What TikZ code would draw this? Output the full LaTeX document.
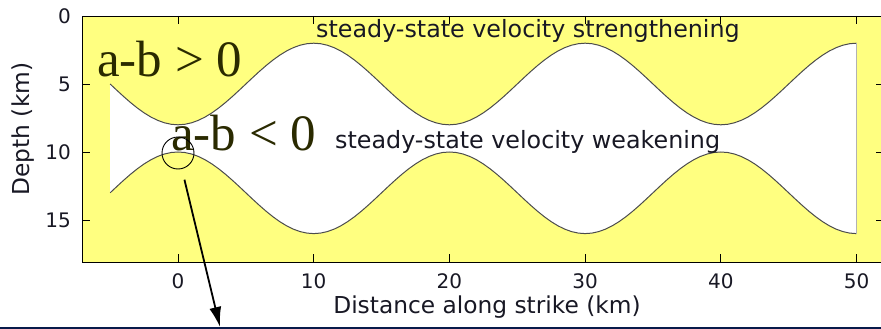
\documentclass[tikz,border=0pt]{standalone}
\usepackage{fontspec}
\setmainfont{Liberation Serif}
\setsansfont{DejaVu Sans}
\usepackage{tikz}
\usetikzlibrary{arrows.meta}

\definecolor{faultyellow}{RGB}{255,255,128}
\definecolor{inktext}{RGB}{24,24,36}
\definecolor{olivetext}{RGB}{42,42,0}
\definecolor{navyband}{RGB}{8,26,74}

\begin{document}
\begin{tikzpicture}[x=1pt, y=-1pt,
  every node/.style={inner sep=0pt, text=inktext, font=\sffamily},
  ticklab/.style={font=\sffamily\fontsize{20}{20}\selectfont},
  axlab/.style={font=\sffamily\fontsize{23.3}{23.3}\selectfont},
  regionlab/.style={font=\sffamily\fontsize{23.8}{23.8}\selectfont},
  ablab/.style={font=\fontsize{51}{51}\selectfont, text=olivetext}]
\useasboundingbox (0,0) rectangle (881,329);
\clip (0,0) rectangle (881,329);

% data coordinates: km along strike, km depth
\begin{scope}[shift={(178,16)}, x=13.57pt, y=-13.6pt]
\fill[faultyellow] (-7.07,0) rectangle (52,18.09);
\fill[white] (-5,5) -- plot[domain=-5:50, samples=111] (\x,{5+3*cos(18*\x)})
  -- (50,16) -- plot[domain=50:-5, samples=111] (\x,{13-3*cos(18*\x)}) -- cycle;
\draw[gray!60!black, line width=1pt] plot[domain=-5:50, samples=111] (\x,{5+3*cos(18*\x)});
\draw[gray!60!black, line width=1pt] plot[domain=-5:50, samples=111] (\x,{13-3*cos(18*\x)});
\draw[gray!60, line width=0.6pt] (50,2) -- (50,16);
\draw[line width=0.8pt] (-7.07,0) rectangle (52,18.09);
\foreach \x in {0,10,...,50} {
  \draw[line width=0.8pt] (\x,18.09) -- ++(0,8pt);
  \draw[line width=0.8pt] (\x,0) -- ++(0,-8pt);
  \node[ticklab, anchor=base] (xt\x) at ([yshift=-26pt]\x,18.09) {\x};
}
\foreach \y in {5,10,15} {
  \draw[line width=0.8pt] (-7.07,\y) -- ++(8pt,0);
  \draw[line width=0.8pt] (52,\y) -- ++(-8pt,0);
}
\foreach \y in {0,5,10,15}
  \node[ticklab, anchor=east] (yt\y) at ([xshift=-11pt]-7.07,\y) {\y};
\end{scope}

\node[axlab, rotate=90] (ylab) at (23,129) {Depth (km)};
\node[axlab, anchor=base] (xlab) at (487,313) {Distance along strike (km)};
\node[regionlab, anchor=base west] (strong) at (316,38) {steady-state velocity strengthening};
\node[regionlab, anchor=base west] (weak) at (335,148) {steady-state velocity weakening};
\node[ablab, anchor=base west] (pos) at (97,77) {a-b > 0};
\node[ablab, anchor=base west] (neg) at (171,150) {a-b < 0};

\node[draw, circle, line width=0.9pt, minimum size=32pt] (c) at (178,153) {};
\coordinate (tip) at (220,327);
\draw[line width=1.8pt, shorten <=11pt, -{Latex[length=20pt,width=12pt]}] (c) -- (tip);

\fill[navyband] (0,326.5) rectangle (881,329);
\end{tikzpicture}
\end{document}
